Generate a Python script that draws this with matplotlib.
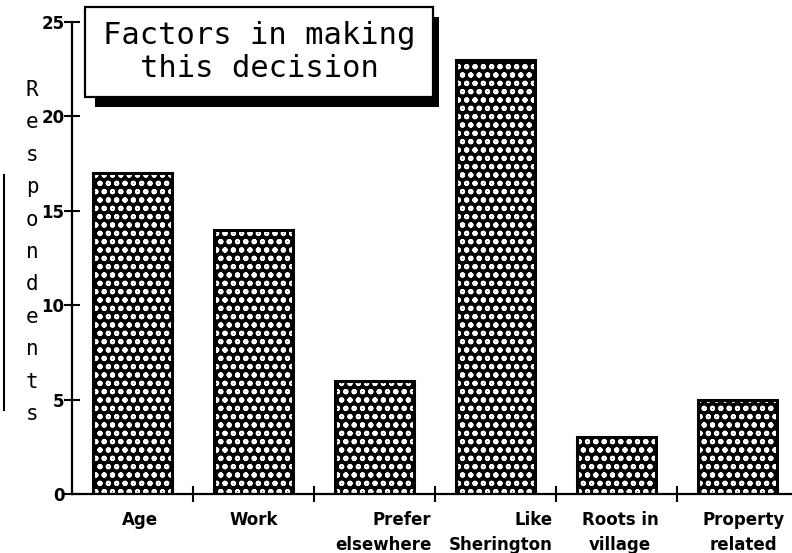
import numpy as np
import matplotlib
matplotlib.use("Agg")
import matplotlib.pyplot as plt
from matplotlib.patches import Rectangle
from matplotlib.lines import Line2D

# Données
categories = ["Age", "Work", "Prefer\nelsewhere", "Like\nSherington", "Roots in\nvillage", "Property\nrelated"]
respondents = [17, 14, 6, 23, 3, 5]
y_ticks = [0, 5, 10, 15, 20, 25]
title = "Factors in making\nthis decision"
ylabel = "Respondents"

# placement des étiquettes (x relatif à la catégorie, alignement)
label_pos = [(0.56, "center"), (0.5, "center"), (0.97, "right"),
             (0.97, "right"), (0.53, "center"), (0.55, "center")]

W, H = 792, 553
plt.rcParams["hatch.linewidth"] = 1.4

fig = plt.figure(figsize=(W / 100, H / 100), dpi=100)
ax = fig.add_axes([72 / W, 59 / H, 726 / W, 472 / H])

x = np.arange(len(categories)) + 0.5
ax.bar(x, respondents, width=0.65, color="black", edgecolor="white",
       hatch="oo", linewidth=0, zorder=2)
ax.bar(x, respondents, width=0.65, fill=False, edgecolor="black",
       linewidth=2.2, zorder=3)

ax.set_xlim(0, len(categories))
ax.set_ylim(0, 25)
ax.spines["top"].set_visible(False)
ax.spines["right"].set_visible(False)
for s in ["left", "bottom"]:
    ax.spines[s].set_linewidth(1.6)
    ax.spines[s].set_zorder(4)

ax.set_yticks(y_ticks)
ax.set_yticklabels([str(t) for t in y_ticks], fontsize=12, fontweight="bold")
ax.set_xticks(np.arange(1, len(categories)))
ax.set_xticklabels([])
ax.tick_params(axis="both", direction="inout", length=11, width=1.5, pad=1)
ax.tick_params(axis="y", pad=0)

for i, (lab, (dx, ha)) in enumerate(zip(categories, label_pos)):
    ax.text(i + dx, -0.035, lab, transform=ax.get_xaxis_transform(),
            ha=ha, va="top", multialignment=ha, fontsize=12,
            fontweight="bold", linespacing=1.5)

# cadre du titre avec ombre
shadow = Rectangle((95 / W, 1 - 107 / H), 344 / W, 90 / H, transform=fig.transFigure,
                   facecolor="black", edgecolor="none", zorder=5)
box = Rectangle((85 / W, 1 - 97 / H), 348 / W, 90 / H, transform=fig.transFigure,
                facecolor="white", edgecolor="black", linewidth=1.6, zorder=6)
fig.patches.extend([shadow, box])
fig.text(259 / W, 1 - 52 / H, title, ha="center", va="center", multialignment="center",
         fontsize=22, family="DejaVu Sans Mono", linespacing=1.2, zorder=7)

# étiquette verticale lettre par lettre
fig.text(32 / W, 1 - 252 / H, "\n".join(ylabel), ha="center", va="center",
         fontsize=15, family="DejaVu Sans Mono", linespacing=1.78)

# trait vertical à gauche (bord du scan)
fig.add_artist(Line2D([4 / W, 4 / W], [1 - 410 / H, 1 - 175 / H],
                      transform=fig.transFigure, color="black", linewidth=1.5))

fig.savefig("out.png", dpi=100)
